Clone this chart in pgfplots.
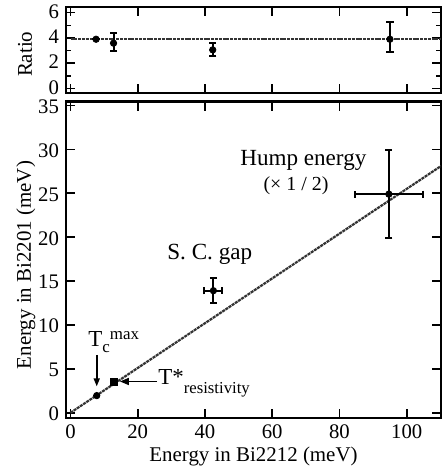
\documentclass[border=0pt]{standalone}
\usepackage{fontspec}
\setmainfont{Liberation Serif}
\usepackage{pgfplots}
\pgfplotsset{compat=1.18}
\usetikzlibrary{arrows.meta}
\pgfplotsset{
  error bars/ebar/.style={error bar style={line width=1bp}, error mark options={rotate=90, mark size=1.8bp, line width=1bp}},
  common/.style={
    scale only axis, width=187.5bp, xmin=-1.34, xmax=110.2,
    axis line style={line width=1.1bp},
    every tick/.style={black, line width=0.8bp},
    major tick length=4.5bp, minor tick length=2.5bp,
    tick align=inside,
    xtick={0,20,...,100},
    xticklabel={\pgfmathprintnumber[assume math mode=true]{\tick}},
    yticklabel={\pgfmathprintnumber[assume math mode=true]{\tick}},
    tick label style={font=\fontsize{10.4}{12}\selectfont},
    yticklabel style={inner ysep=0pt},
    label style={font=\fontsize{10.5}{12}\selectfont},
    fitline/.style={color=black!80, line width=1.1bp, dash pattern=on 1.5bp off 0.4bp},
    pt/.style={only marks, mark=*, mark size=1.6bp, black},
  }
}
\begin{document}
\begin{tikzpicture}[x=1bp,y=1bp]
\useasboundingbox (0,0) rectangle (221.5,236);
% main panel
\begin{axis}[common, at={(33bp,27bp)}, anchor=south west, height=158.25bp,
  ymin=-0.6, ymax=35.45, ytick={0,5,...,35},
  yticklabel style={yshift=-0.6bp},
  xlabel={Energy in Bi2212 (meV)}, ylabel={Energy in Bi2201 (meV)},
  xlabel style={at={(axis description cs:0.5,-0.122)}, anchor=center},
  ylabel style={at={(axis description cs:-0.107,0.483)}, anchor=center}]
\addplot[fitline] coordinates {(0,0) (110.2,28.1)};
\addplot[pt] coordinates {(7.8,1.95)};
\addplot[only marks, mark=square*, mark size=1.9bp, black] coordinates {(12.9,3.5)};
\addplot[pt, error bars/.cd, x dir=both, x explicit, y dir=both, y explicit, ebar]
  coordinates {(42.5,13.9) +- (2.65,1.45) (94.7,24.9) +- (10,5)};
\draw[line width=0.8bp, -{Triangle[length=4bp,width=3bp]}] (axis cs:7.8,6.6) -- (axis cs:7.8,3.0);
\draw[line width=0.8bp, -{Triangle[length=4.5bp,width=3.5bp]}] (axis cs:25.8,3.56) -- (axis cs:14.7,3.56);
\node[anchor=base west, inner sep=0pt] at (axis cs:5.2,7.5)
  {\fontsize{11.5}{13}\selectfont T\raisebox{-3bp}{\fontsize{8.5}{10}\selectfont c}\raisebox{3.5bp}{\fontsize{8.5}{10}\selectfont max}};
\node[anchor=base west, inner sep=0pt] at (axis cs:26.0,3.2)
  {\fontsize{11.5}{13}\selectfont T*\raisebox{-4.5bp}{\fontsize{8.4}{10}\selectfont resistivity}};
\node[anchor=base west, inner sep=0pt] at (axis cs:28.7,17.4) {\fontsize{11.6}{13}\selectfont S. C. gap};
\node[anchor=base west, inner sep=0pt] at (axis cs:50.4,28.2) {\fontsize{11.6}{13}\selectfont Hump energy};
\node[anchor=base west, inner sep=0pt] at (axis cs:57.3,25.3) {\fontsize{10}{12}\selectfont (× 1 / 2)};
\end{axis}
% ratio panel
\begin{axis}[common, at={(33bp,189.5bp)}, anchor=south west, height=43bp,
  ymin=-0.35, ymax=6.45, ytick={0,2,4,6}, minor ytick={1,3,5},
  yticklabel style={yshift=0.6bp},
  xticklabels={},
  ylabel={Ratio},
  ylabel style={at={(axis description cs:-0.109,0.45)}, anchor=center}]
\addplot[fitline] coordinates {(0,3.9) (110.2,3.9)};
\addplot[pt, error bars/.cd, y dir=both, y explicit, ebar]
  coordinates {(7.6,3.9) +- (0,0) (12.8,3.59) += (0,0.79) -= (0,0.61) (42.3,3.06) += (0,0.57) -= (0,0.48) (95,3.9) += (0,1.4) -= (0,1.03)};
\end{axis}
\end{tikzpicture}
\end{document}
